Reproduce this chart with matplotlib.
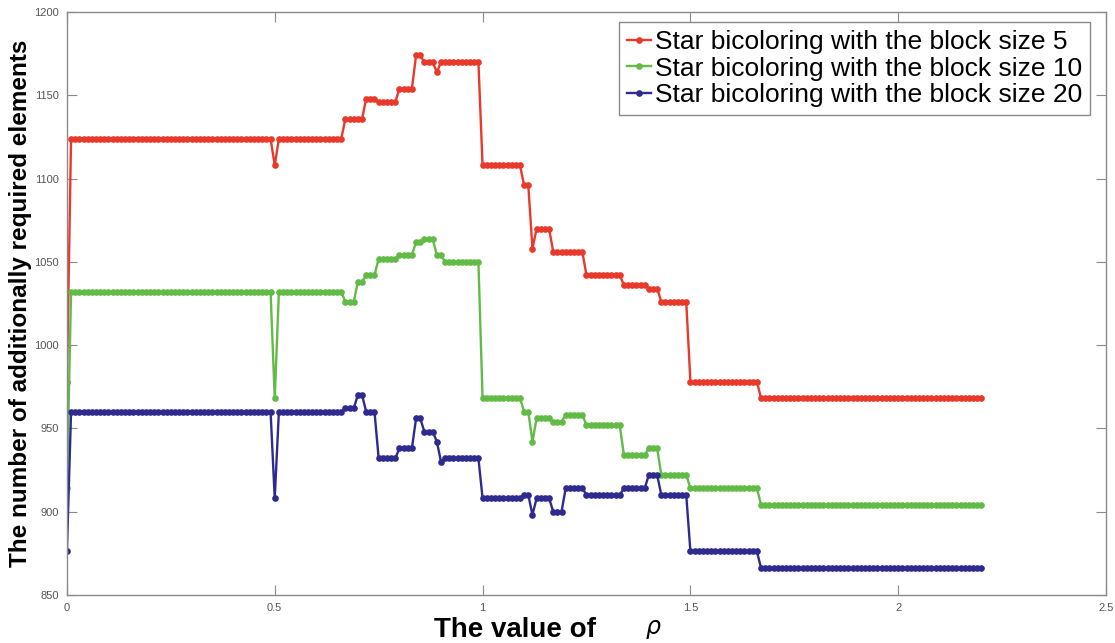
import numpy as np
import matplotlib
matplotlib.use('Agg')
import matplotlib.pyplot as plt

plt.rcParams['font.family'] = ['Liberation Sans', 'DejaVu Sans']

# rho sampled on a 0.01 grid from 0 to 2.2
rho = np.linspace(0.0, 2.2, 221)

# step levels and how many consecutive rho samples keep each level
red_levels = [978, 1124, 1108, 1124, 1136, 1148, 1146, 1154, 1174, 1170, 1164, 1170,
              1108, 1096, 1058, 1070, 1056, 1042, 1036, 1034, 1026, 978, 968]
red_counts = [1, 49, 1, 16, 5, 3, 5, 4, 2, 3, 1, 10,
              10, 2, 1, 4, 8, 9, 6, 3, 7, 17, 54]

green_levels = [914, 1032, 968, 1032, 1026, 1038, 1042, 1052, 1054, 1062, 1064, 1054, 1050,
                968, 960, 942, 956, 954, 958, 952, 934, 938, 922, 914, 904]
green_counts = [1, 49, 1, 16, 3, 2, 3, 5, 4, 2, 3, 2, 9,
                10, 2, 1, 4, 3, 5, 9, 6, 3, 7, 17, 54]

blue_levels = [876, 960, 908, 960, 962, 970, 960, 932, 938, 956, 948, 942, 930, 932,
               908, 910, 898, 908, 900, 914, 910, 914, 922, 910, 876, 866]
blue_counts = [1, 49, 1, 16, 3, 2, 3, 5, 4, 2, 3, 1, 1, 9,
               10, 2, 1, 4, 3, 5, 9, 6, 3, 7, 17, 54]

labels = ['Star bicoloring with the block size 5',
          'Star bicoloring with the block size 10',
          'Star bicoloring with the block size 20']
colors = ['#e8392b', '#62bb47', '#2f2a8e']

series = [np.repeat(red_levels, red_counts),
          np.repeat(green_levels, green_counts),
          np.repeat(blue_levels, blue_counts)]

fig = plt.figure(figsize=(11.15, 6.43), dpi=100)
ax = fig.add_axes([0.060, 0.075, 0.932, 0.906])

for y, c, lab in zip(series, colors, labels):
    ax.plot(rho, y, '-o', color=c, lw=1.7, markersize=4.8, markeredgewidth=0, label=lab)

ax.set_xlim(0, 2.5)
ax.set_ylim(850, 1200)
ax.set_xticks([0, 0.5, 1, 1.5, 2, 2.5])
ax.set_xticklabels(['0', '0.5', '1', '1.5', '2', '2.5'])
ax.set_yticks(np.arange(850, 1201, 50))

for s in ax.spines.values():
    s.set_color('#8a8a8a')
    s.set_linewidth(1.0)
ax.tick_params(direction='in', length=7, width=0.8, color='#8a8a8a',
               labelsize=8, labelcolor='#555555', top=True, right=True, pad=6)

ax.set_ylabel('The number of additionally required elements', fontsize=17.5,
              fontweight='bold', labelpad=1)
# axis title: bold words, then the greek symbol set apart
fig.text(0.5345, 0.009, 'The value of', fontsize=20, fontweight='bold',
         ha='right', va='baseline')
fig.text(0.586, 0.014, r'$\rho$', fontsize=17, ha='center', va='baseline')

leg = ax.legend(loc='upper right', bbox_to_anchor=(1090 / 1115, 1 - 22 / 643),
                bbox_transform=fig.transFigure, fontsize=19,
                fancybox=False, framealpha=1, edgecolor='#8a8a8a',
                handlelength=0.9, handletextpad=0.15, borderpad=0.3,
                labelspacing=0.1, borderaxespad=0)
leg.get_frame().set_linewidth(1.0)

fig.savefig('out.png', dpi=100)
